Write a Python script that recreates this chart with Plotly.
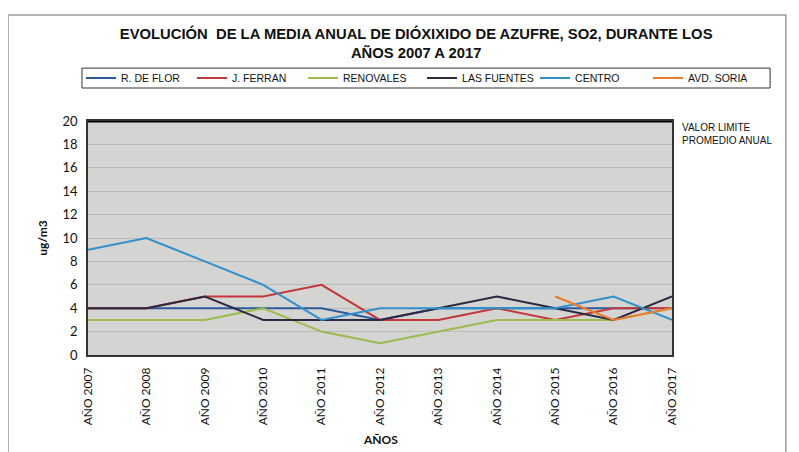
import plotly.graph_objects as go

# categorias (eje x)
years = ["AÑO 2007", "AÑO 2008", "AÑO 2009", "AÑO 2010", "AÑO 2011", "AÑO 2012",
         "AÑO 2013", "AÑO 2014", "AÑO 2015", "AÑO 2016", "AÑO 2017"]

# medias anuales SO2 (ug/m3) por estacion
r_de_flor = [4, 4, 4, 4, 4, 3, 4, 4, 4, 4, 4]
j_ferran = [4, 4, 5, 5, 6, 3, 3, 4, 3, 4, 4]
renovales = [3, 3, 3, 4, 2, 1, 2, 3, 3, 3, 4]
las_fuentes = [4, 4, 5, 3, 3, 3, 4, 5, 4, 3, 5]
centro = [9, 10, 8, 6, 3, 4, 4, 4, 4, 5, 3]
avd_soria = [None, None, None, None, None, None, None, None, 5, 3, 4]

valor_limite = 20
y_ticks = list(range(0, 21, 2))

series = [
    ("R. DE FLOR", r_de_flor, "#2a5a9c", "legend"),
    ("J. FERRAN", j_ferran, "#c3393a", "legend"),
    ("RENOVALES", renovales, "#9bbb4f", "legend"),
    ("LAS FUENTES", las_fuentes, "#2e2842", "legend2"),
    ("CENTRO", centro, "#3090cc", "legend2"),
    ("AVD. SORIA", avd_soria, "#ea7a2c", "legend2"),
]

fig = go.Figure()
for name, vals, col, leg in series:
    fig.add_trace(go.Scatter(x=years, y=vals, name=name, mode="lines", legend=leg,
                             line=dict(color=col, width=2)))

# linea del valor limite
fig.add_shape(type="line", xref="paper", x0=0, x1=1, yref="y",
              y0=valor_limite, y1=valor_limite, line=dict(color="black", width=3))
# marco exterior del grafico
fig.add_shape(type="rect", xref="paper", yref="paper", x0=-0.137, x1=1.195,
              y0=-0.48, y1=1.453, line=dict(color="#9a9a9a", width=1.5), layer="below")
# caja de la leyenda
fig.add_shape(type="rect", xref="paper", yref="paper", x0=-0.0103, x1=1.168,
              y0=1.141, y1=1.226, line=dict(color="#333", width=1), fillcolor="white",
              layer="below")

fig.add_annotation(text="VALOR LIMITE<br>PROMEDIO ANUAL", xref="paper", yref="paper",
                   x=1.013, y=1.005, xanchor="left", yanchor="top",
                   showarrow=False, align="left",
                   font=dict(family="Liberation Sans", size=10, color="#111"))
fig.add_annotation(text="<b>AÑOS</b>", xref="paper", yref="paper", x=0.5, y=-0.363,
                   xanchor="center", yanchor="middle", showarrow=False,
                   font=dict(family="Lato", size=12, color="#111"))

leg_font = dict(family="Liberation Sans", size=10.5, color="#111")

# la pagina tiene 8px de margen en el body: figura 791x444
fig.update_layout(
    width=791, height=444,
    margin=dict(l=80, r=127, t=113, b=97),
    paper_bgcolor="white",
    plot_bgcolor="#d4d4d2",
    title=dict(text="<b>EVOLUCIÓN  DE LA MEDIA ANUAL DE DIÓXIXIDO DE AZUFRE, SO2, DURANTE LOS<br>AÑOS 2007 A 2017</b>",
               x=0.516, xanchor="center", y=0.93, yanchor="top",
               font=dict(family="Liberation Sans", size=14.8, color="#111")),
    legend=dict(orientation="h", x=-0.012, xanchor="left", y=1.184, yanchor="middle",
                bgcolor="rgba(0,0,0,0)", borderwidth=0, font=leg_font,
                entrywidth=66, entrywidthmode="pixels", itemwidth=30),
    legend2=dict(orientation="h", x=0.572, xanchor="left", y=1.184, yanchor="middle",
                 bgcolor="rgba(0,0,0,0)", borderwidth=0, font=leg_font,
                 entrywidth=68, entrywidthmode="pixels", itemwidth=30),
    showlegend=True,
)
fig.update_xaxes(showgrid=False, showline=True, linecolor="#333", linewidth=1.5,
                 mirror=True, tickangle=-90, ticks="", ticklabelstandoff=6,
                 tickfont=dict(family="Lato", size=12, color="#111"))
fig.update_yaxes(range=[0, 20], tickvals=y_ticks, showgrid=True, gridcolor="#bababa",
                 gridwidth=1, showline=True, linecolor="#333", linewidth=1.5, mirror=True,
                 zeroline=False, ticks="", ticklabelstandoff=6,
                 tickfont=dict(family="Lato", size=13, color="#111"),
                 title=dict(text="<b>ug/m3</b>", standoff=12,
                            font=dict(family="Lato", size=12, color="#111")))

fig.write_html("out.html")
